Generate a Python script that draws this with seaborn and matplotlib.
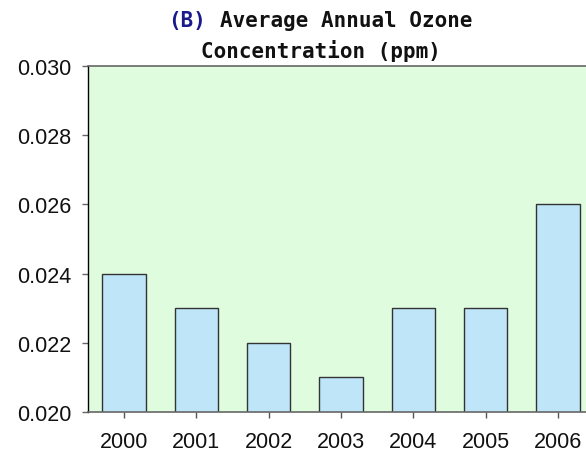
import matplotlib
matplotlib.use("Agg")
import matplotlib.pyplot as plt
import seaborn as sns

# Dados do gráfico
years = ["2000", "2001", "2002", "2003", "2004", "2005", "2006"]
ozone_ppm = [0.024, 0.023, 0.022, 0.021, 0.023, 0.023, 0.026]
y_ticks = [0.020, 0.022, 0.024, 0.026, 0.028, 0.030]
y_tick_labels = ["0.020", "0.022", "0.024", "0.026", "0.028", "0.030"]

sns.set_style("white")
plt.rcParams["font.family"] = ["Liberation Sans", "DejaVu Sans"]

W, H = 586, 452
fig = plt.figure(figsize=(W / 100, H / 100), dpi=100)
ax = fig.add_axes([88 / W, 39 / H, 506 / W, 346 / H])
ax.set_facecolor("#DFFCDF")

sns.barplot(x=years, y=ozone_ppm, color="#BEE5F8", saturation=1,
            width=0.6, edgecolor="#333333", linewidth=1.0, ax=ax)

ax.set_ylim(0.020, 0.030)
ax.set_xlim(-0.5, 6.5)
ax.set_yticks(y_ticks)
ax.set_yticklabels(y_tick_labels)
ax.set_xlabel("")
ax.set_ylabel("")
ax.tick_params(axis="both", labelsize=15.5, colors="#111111", length=4,
               width=1, direction="out", left=True, bottom=True)
ax.tick_params(axis="y", pad=8, color="#666666")
ax.tick_params(axis="x", pad=10, color="#555555")

for side in ["top", "bottom", "right"]:
    ax.spines[side].set_color("#666666")
    ax.spines[side].set_linewidth(1.2)
ax.spines["left"].set_color("#000000")
ax.spines["left"].set_linewidth(1.0)

# Título: "(B)" em azul-escuro, resto em preto (fonte monoespaçada)
title_font = dict(fontsize=15, fontweight="bold", family="DejaVu Sans Mono",
                  va="baseline")
fig.text(168 / W, 1 - 27 / H, "(B)", ha="left", color="#1A1A8C", **title_font)
fig.text(472 / W, 1 - 27 / H, "Average Annual Ozone", ha="right",
         color="#111111", **title_font)
fig.text(321 / W, 1 - 58 / H, "Concentration (ppm)", ha="center",
         color="#111111", **title_font)

fig.savefig("out.png", dpi=100)
